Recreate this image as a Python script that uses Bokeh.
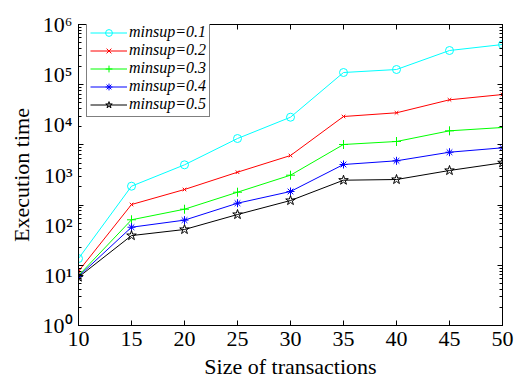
from bokeh.plotting import figure
from bokeh.models import (LogAxis, LinearAxis, Range1d, LogScale, LogTicker, FixedTicker,
                          Legend, LegendItem, CustomJSTickFormatter)
from bokeh.embed import file_html
from bokeh.resources import INLINE

# ---- data ----
sizes = [10, 15, 20, 25, 30, 35, 40, 45, 50]
t_minsup_01 = [21.6, 598, 1596, 5335, 14190, 110400, 126700, 303000, 399000]
t_minsup_02 = [12.1, 258, 514, 1137, 2445, 14650, 17370, 31540, 40200]
t_minsup_03 = [9.9, 128, 208, 454, 991, 4055, 4654, 7600, 8850]
t_minsup_04 = [9.5, 91, 126, 274, 469, 1619, 1918, 2846, 3483]
t_minsup_05 = [9.2, 62, 82, 163, 310, 787, 813, 1230, 1750]
series_labels = ["minsup=0.1", "minsup=0.2", "minsup=0.3", "minsup=0.4", "minsup=0.5"]
x_ticks = [10, 15, 20, 25, 30, 35, 40, 45, 50]
y_ticks = [1, 10, 100, 1000, 10000, 100000, 1000000]
y_tick_labels = ["10\u2070", "10\u00b9", "10\u00b2", "10\u00b3", "10\u2074", "10\u2075", "10\u2076"]

FONT = "Liberation Serif"

p = figure(width=522, height=384, output_backend="svg", toolbar_location=None,
           x_range=Range1d(10, 50), y_range=Range1d(1, 1e6), y_axis_type="log",
           x_axis_location=None, y_axis_location=None,
           min_border_left=78, min_border_right=20, min_border_top=24, min_border_bottom=59)
p.grid.visible = False
p.outline_line_color = "black"
p.background_fill_color = "white"
p.border_fill_color = "white"

p.extra_y_ranges = {"tk": Range1d(10, 1e6)}
p.extra_y_scales = {"tk": LogScale()}

empty = CustomJSTickFormatter(code="return ''")


def tick_axis(cls, **kw):
    ax = cls(formatter=empty, major_tick_in=5, major_tick_out=0,
             minor_tick_in=3, minor_tick_out=0, major_label_standoff=0,
             axis_line_color="black", major_tick_line_color="black",
             minor_tick_line_color="black", **kw)
    return ax


# left: tick marks (inner) + labels (outer)
p.add_layout(tick_axis(LogAxis, y_range_name="tk", ticker=LogTicker(num_minor_ticks=10)), "left")
lab_left = LogAxis(ticker=FixedTicker(ticks=y_ticks),
                   major_label_overrides={t: l for t, l in zip(y_ticks, y_tick_labels)},
                   major_tick_line_color=None, minor_tick_line_color=None, axis_line_color=None,
                   major_tick_out=0, major_tick_in=0, major_label_standoff=6,
                   major_label_text_font=FONT, major_label_text_font_size="22px",
                   major_label_text_color="black",
                   axis_label="Execution time", axis_label_text_font=FONT,
                   axis_label_text_font_size="22px", axis_label_text_font_style="normal",
                   axis_label_standoff=6, axis_label_text_color="black")
p.add_layout(lab_left, "left")

p.add_layout(tick_axis(LogAxis, y_range_name="tk", ticker=LogTicker(num_minor_ticks=10)), "right")
top = tick_axis(LinearAxis, ticker=FixedTicker(ticks=x_ticks))
p.add_layout(top, "above")

bottom = LinearAxis(ticker=FixedTicker(ticks=x_ticks), major_tick_in=5, major_tick_out=0,
                    minor_tick_line_color=None, axis_line_color="black",
                    major_label_standoff=6, major_label_text_font=FONT,
                    major_label_text_font_size="22px", major_label_text_color="black",
                    axis_label="Size of transactions", axis_label_text_font=FONT,
                    axis_label_text_font_size="22px", axis_label_text_font_style="normal",
                    axis_label_standoff=5, axis_label_text_color="black")
p.add_layout(bottom, "below")

styles = [
    (t_minsup_01, "#00FFFF", "circle", 8),
    (t_minsup_02, "#FF0000", "x", 5),
    (t_minsup_03, "#00FF00", "cross", 9),
    (t_minsup_04, "#0000FF", "asterisk", 8),
    (t_minsup_05, "#000000", "star", 10),
]
items = []
for (vals, col, mk, sz), lab in zip(styles, series_labels):
    r = p.line(sizes, vals, line_color=col, line_width=1)
    m = p.scatter(sizes, vals, marker=mk, size=sz, line_color=col, fill_color=None, line_width=1)
    items.append(LegendItem(label=lab, renderers=[r, m]))

legend = Legend(items=items, location=(8, 208), margin=0,
                label_text_font=FONT, label_text_font_style="italic",
                label_text_font_size="16px", label_text_color="black",
                glyph_width=37, glyph_height=17, label_height=17, spacing=0,
                padding=3, label_standoff=2,
                border_line_color="black", border_line_width=1,
                background_fill_color="white", background_fill_alpha=1)
p.add_layout(legend)

open("out.html", "w").write(file_html(p, INLINE))
